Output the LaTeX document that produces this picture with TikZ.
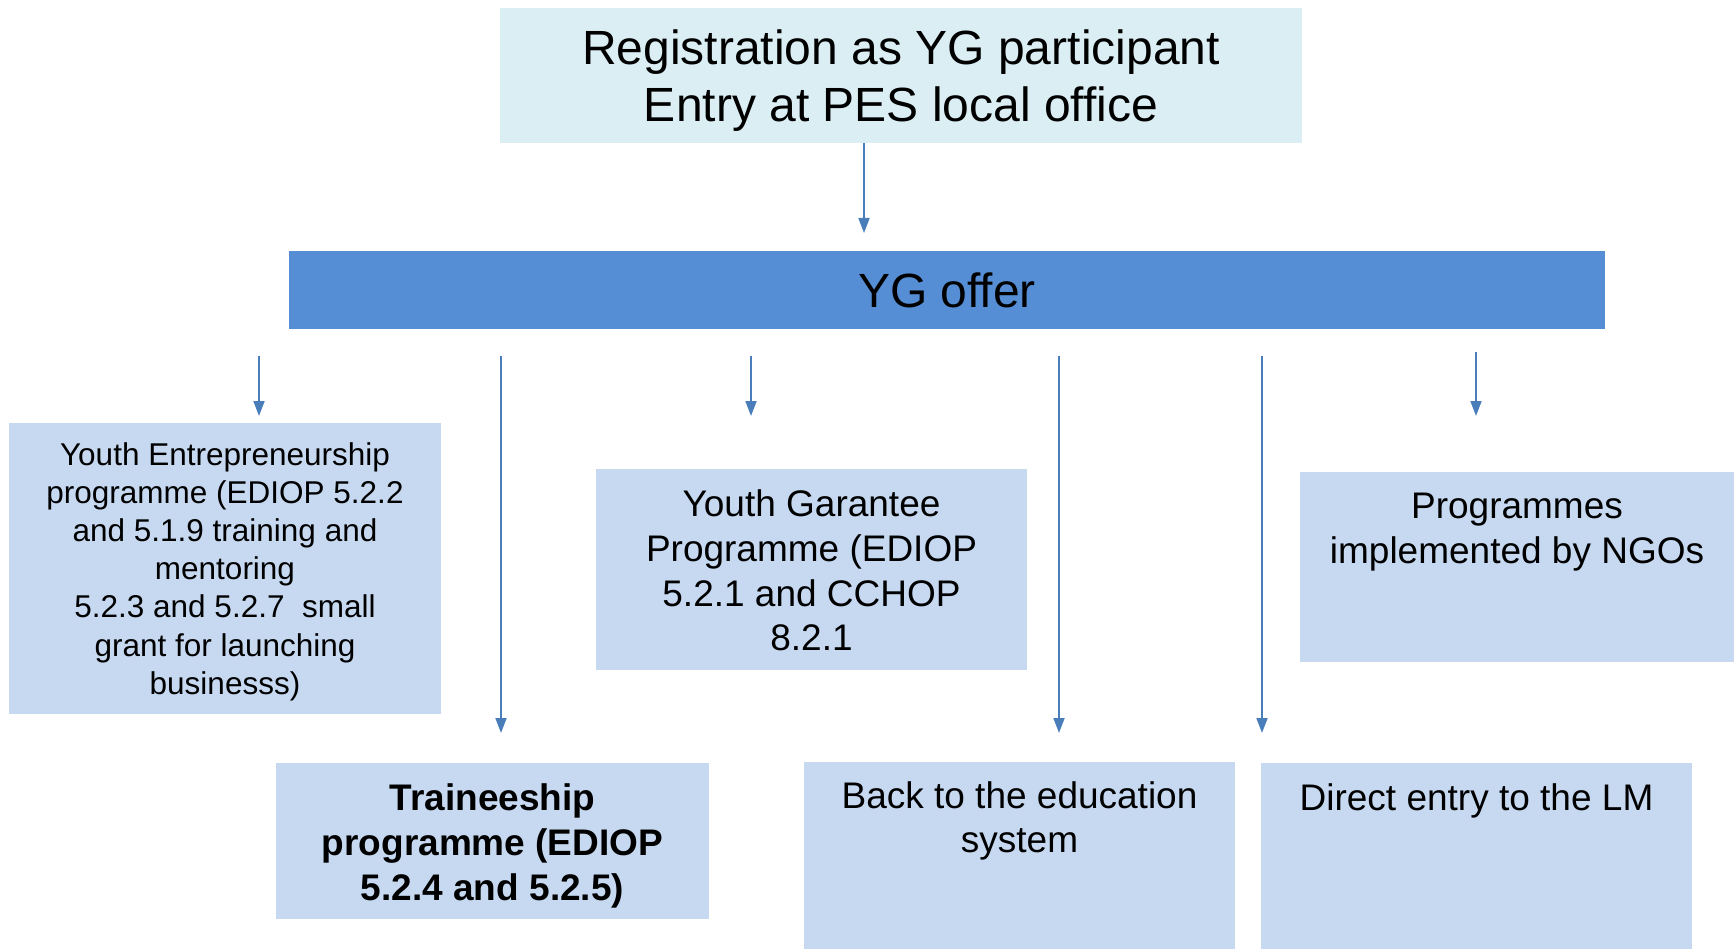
\documentclass[tikz,border=0pt]{standalone}
\usepackage{fontspec}
\setmainfont{Liberation Sans}
\usetikzlibrary{arrows.meta}
\definecolor{topfill}{HTML}{DAEEF3}
\definecolor{offerfill}{HTML}{558ED5}
\definecolor{boxfill}{HTML}{C6D9F1}
\definecolor{arrowcol}{HTML}{4A7EBB}
\begin{document}
\begin{tikzpicture}[x=1pt,y=-1pt,
  box/.style={draw=none, inner sep=0pt, outer sep=0pt, anchor=north west},
  lbox/.style={box, fill=boxfill},
  txt/.style={inner sep=0pt, outer sep=0pt, align=center, text=black},
  arr/.style={draw=arrowcol, line width=1.8pt, -{Triangle[length=15pt,width=11pt]}},
  big/.style={font=\fontsize{48}{57.5}\selectfont},
  mid/.style={font=\fontsize{37}{44.6}\selectfont},
  sml/.style={font=\fontsize{31.5}{38.2}\selectfont}
]
\useasboundingbox (0,0) rectangle (1734,949);

% boxes
\node[box, fill=topfill, minimum width=802pt, minimum height=135pt] (top) at (500,8) {};
\node[box, fill=offerfill, minimum width=1316pt, minimum height=78pt] (offer) at (289,251) {};
\node[lbox, minimum width=432pt, minimum height=291pt] (b1) at (9,423) {};
\node[lbox, minimum width=431pt, minimum height=201pt] (b2) at (596,469) {};
\node[lbox, minimum width=434pt, minimum height=190pt] (b3) at (1300,472) {};
\node[lbox, minimum width=433pt, minimum height=156pt] (b4) at (276,763) {};
\node[lbox, minimum width=431pt, minimum height=187pt] (b5) at (804,762) {};
\node[lbox, minimum width=431pt, minimum height=186pt] (b6) at (1261,763) {};

% texts
\node[txt, big] (ttop) at ([yshift=-5pt]top.center) {Registration as YG participant\\Entry at PES local office};
\node[txt, big] (toffer) at (offer.center) {YG offer};
\node[txt, sml] (t1) at ([yshift=-3pt]b1.center) {Youth Entrepreneurship\\programme (EDIOP 5.2.2\\and 5.1.9 training and\\mentoring\\5.2.3 and 5.2.7\ \ small\\grant for launching\\businesss)};
\node[txt, mid] (t2) at ([yshift=-1pt]b2.center) {Youth Garantee\\Programme (EDIOP\\5.2.1 and CCHOP\\8.2.1};
\node[txt, mid, anchor=north] (t3) at ([yshift=-21pt]b3.north) {Programmes\\implemented by NGOs};
\node[txt, mid, font=\fontsize{37}{44.6}\selectfont\bfseries] (t4) at ([yshift=-5pt]b4.center) {Traineeship\\programme (EDIOP\\5.2.4 and 5.2.5)};
\node[txt, mid, anchor=north] (t5) at ([yshift=-19.5pt]b5.north) {Back to the education\\system};
\node[txt, mid, anchor=north] (t6) at ([yshift=-20.5pt]b6.north) {Direct entry to the LM};

% arrow ends
\coordinate (e0) at (864,233);
\coordinate (s1) at (259,356); \coordinate (e1) at (259,416);
\coordinate (s2) at (501,356); \coordinate (e2) at (501,733);
\coordinate (s3) at (751,356); \coordinate (e3) at (751,416);
\coordinate (s4) at (1059,356); \coordinate (e4) at (1059,733);
\coordinate (s5) at (1262,356); \coordinate (e5) at (1262,733);
\coordinate (s6) at (1476,352); \coordinate (e6) at (1476,416);

\draw[arr] (top.south -| e0) -- (e0);
\draw[arr] (s1) -- (e1);
\draw[arr] (s2) -- (e2);
\draw[arr] (s3) -- (e3);
\draw[arr] (s4) -- (e4);
\draw[arr] (s5) -- (e5);
\draw[arr] (s6) -- (e6);
\end{tikzpicture}
\end{document}
